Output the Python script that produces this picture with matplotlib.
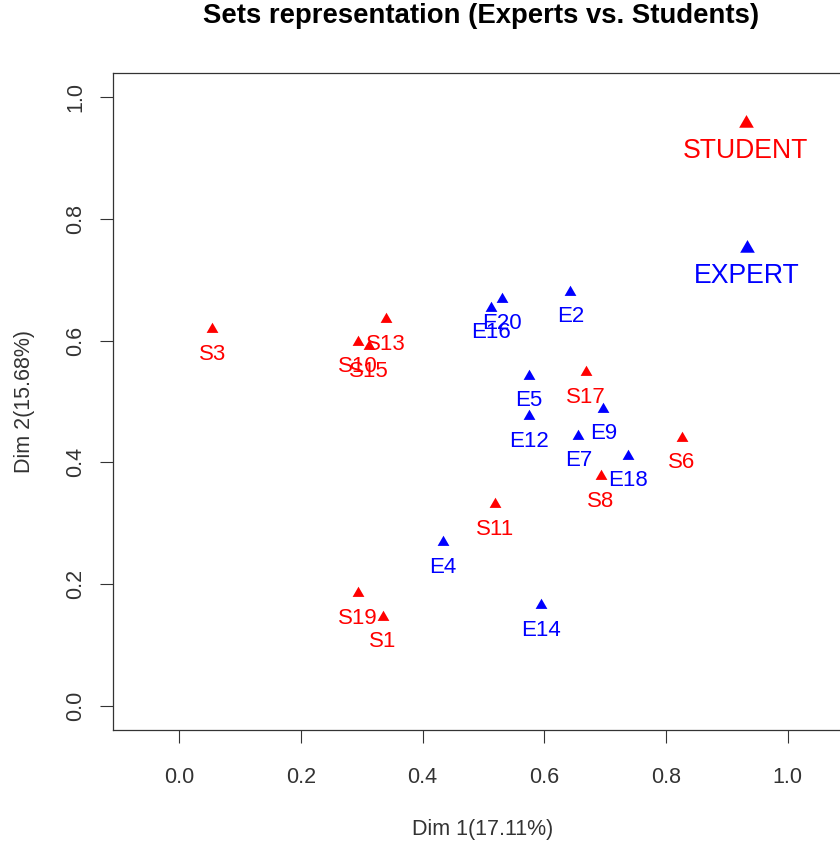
import matplotlib
matplotlib.use("Agg")
import matplotlib.pyplot as plt

plt.rcParams['font.family'] = ['Liberation Sans', 'DejaVu Sans']

# Coordinates of the individual sets on the first two dimensions
expert_labels = ["E2", "E4", "E5", "E7", "E9", "E12", "E14", "E16", "E18", "E20"]
expert_dim1 = [0.643, 0.433, 0.575, 0.656, 0.697, 0.574, 0.594, 0.513, 0.737, 0.530]
expert_dim2 = [0.680, 0.269, 0.542, 0.444, 0.488, 0.476, 0.165, 0.654, 0.411, 0.669]

student_labels = ["S1", "S3", "S6", "S8", "S10", "S11", "S13", "S15", "S17", "S19"]
student_dim1 = [0.335, 0.054, 0.826, 0.693, 0.294, 0.519, 0.340, 0.312, 0.668, 0.293]
student_dim2 = [0.146, 0.619, 0.440, 0.377, 0.598, 0.331, 0.635, 0.591, 0.548, 0.185]

# Group (supplementary) points
group_labels = ["STUDENT", "EXPERT"]
group_dim1 = [0.931, 0.933]
group_dim2 = [0.958, 0.752]
group_colors = ["#FF0000", "#0000FF"]

x_ticks = [0.0, 0.2, 0.4, 0.6, 0.8, 1.0]
y_ticks = [0.0, 0.2, 0.4, 0.6, 0.8, 1.0]

W, H = 840, 843
fig = plt.figure(figsize=(W / 100, H / 100), dpi=100)
ax = fig.add_axes([113 / W, 1 - 730 / H, (854 - 113) / W, (730 - 73) / H])
ax.set_xlim(-0.109, 1.109)
ax.set_ylim(-0.04, 1.04)

# filled equilateral triangle centred on its centroid
tri = [(0, 1), (-0.866, -0.5), (0.866, -0.5)]
px = 72 / 100  # points per pixel

def draw_points(xs, ys, labels, color, ms, fs, off_px):
    for x, y in zip(xs, ys):
        ax.plot(x, y, marker=tri, ms=ms, color=color, mew=0, ls='none')
    for x, y, lab in zip(xs, ys, labels):
        ax.annotate(lab, (x, y), xytext=(0, -off_px * px), textcoords='offset points',
                    ha='center', va='baseline', color=color, fontsize=fs)

draw_points(expert_dim1, expert_dim2, expert_labels, "#0000FF", 9.8, 16, 30.5)
draw_points(student_dim1, student_dim2, student_labels, "#FF0000", 9.8, 16, 30.5)
for x, y, lab, c in zip(group_dim1, group_dim2, group_labels, group_colors):
    ax.plot(x, y, marker=tri, ms=12.2, color=c, mew=0, ls='none')
    ax.annotate(lab, (x, y), xytext=(0, -35 * px), textcoords='offset points',
                ha='center', va='baseline', color=c, fontsize=19.2)

ax.set_xticks(x_ticks)
ax.set_xticklabels([f"{v:.1f}" for v in x_ticks])
ax.set_yticks(y_ticks)
ax.set_yticklabels([f"{v:.1f}" for v in y_ticks], rotation=90, va='center')

tick_color = "#333333"
ax.tick_params(axis='both', length=13 * px, width=0.8, color=tick_color,
               labelcolor=tick_color, labelsize=15.5)
ax.tick_params(axis='x', pad=17.4)
ax.tick_params(axis='y', pad=9.7)
for s in ax.spines.values():
    s.set_color(tick_color)
    s.set_linewidth(0.9)

fig.text(482.5 / W, 1 - 835 / H, "Dim 1(17.11%)", ha='center', va='baseline',
         fontsize=15.5, color=tick_color)
fig.text(24.5 / W, 1 - 401.5 / H, "Dim 2(15.68%)", ha='center', va='center',
         rotation=90, fontsize=15.5, color=tick_color)
fig.text(481 / W, 1 - 23 / H, "Sets representation (Experts vs. Students)",
         ha='center', va='baseline', fontsize=19.8, fontweight='bold', color='black')

fig.savefig("out.png", dpi=100)
